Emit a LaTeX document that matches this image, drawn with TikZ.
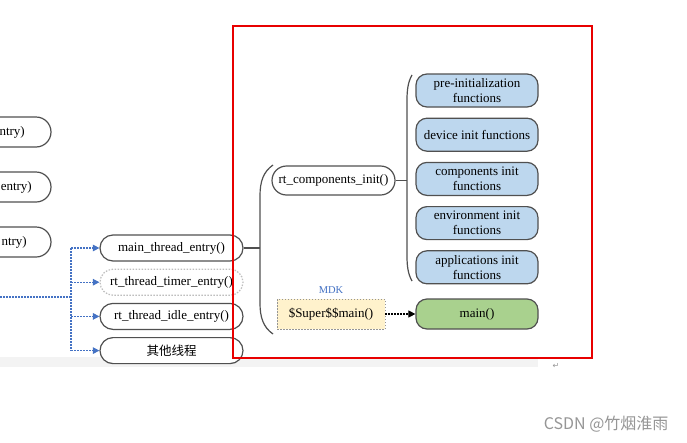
\documentclass[tikz,border=0pt]{standalone}
\usepackage{fontspec}
\setmainfont{Liberation Serif}
\newfontfamily\cjk{Noto Sans CJK SC}
\newfontfamily\symb{DejaVu Sans}
\usepackage{tikz}
\usetikzlibrary{arrows.meta,positioning,calc}
\definecolor{linegray}{RGB}{80,80,80}
\definecolor{dotgray}{RGB}{190,190,190}
\definecolor{flowblue}{RGB}{68,114,196}
\definecolor{initblue}{RGB}{189,215,238}
\definecolor{maingreen}{RGB}{169,209,142}
\definecolor{mdkyellow}{RGB}{255,242,204}
\definecolor{framered}{RGB}{232,0,0}
\definecolor{markgray}{RGB}{150,150,150}
\definecolor{stripgray}{RGB}{243,243,243}

\begin{document}
\begin{tikzpicture}[
    x=1pt, y=-1pt,
    % --- STYLES ---
    every node/.style={font=\fontsize{13}{15}\selectfont},
    thread/.style={
        rectangle, rounded corners=13pt,
        draw=linegray, line width=1.2pt, fill=white,
        minimum width=143pt, minimum height=26pt,
        inner sep=0pt
    },
    cutbox/.style={
        rectangle, rounded corners=15pt,
        draw=linegray, line width=1.2pt, fill=white,
        minimum width=142pt, minimum height=30pt
    },
    initbox/.style={
        rectangle, rounded corners=11pt,
        draw=linegray, line width=1.2pt, fill=initblue,
        minimum width=122pt, minimum height=33pt,
        align=center, inner sep=0pt
    },
    superbox/.style={
        rectangle, draw=markgray, fill=mdkyellow,
        dash pattern=on 1.5pt off 1.5pt, line width=0.9pt,
        minimum width=108pt, minimum height=30pt
    },
    bracket/.style={draw=linegray, line width=1.2pt},
    flowline/.style={draw=flowblue, line width=1.2pt, dash pattern=on 1.5pt off 1.5pt},
    flow/.style={flowline, -{Triangle[length=6.5pt,width=6.5pt]}},
    call/.style={draw=black, line width=1.1pt, dash pattern=on 1.5pt off 1.5pt,
        -{Triangle[length=7pt,width=7pt]}}
]

\clip (0,0) rectangle (687,442);
\fill[white] (0,0) rectangle (687,442);
\fill[stripgray] (0,357) rectangle (538,367);

% ===== 1. LEFT (CUT OFF) NODES =====
\node[cutbox] (cut1) at (-20,132) {};
\node[anchor=east, inner sep=0pt] (cut1txt) at (25,132) {ntry)};
\node[cutbox] (cut2) at (-20,187) {};
\node[anchor=east, inner sep=0pt] (cut2txt) at (32,187) {entry)};
\node[cutbox] (cut3) at (-20,242) {};
\node[anchor=east, inner sep=0pt] (cut3txt) at (27,242) {ntry)};

% ===== 2. THREAD NODES =====
\node[thread] (mte) at (171.5,248) {main\_thread\_entry()};
\node[thread, below=7pt of mte, draw=dotgray, dash pattern=on 1.5pt off 1.5pt] (timer) {rt\_thread\_timer\_entry()};
\node[thread, below=7pt of timer] (idle) {rt\_thread\_idle\_entry()};
\node[thread, below=7pt of idle] (other) {\cjk\fontsize{12.5}{14}\selectfont 其他线程};

% blue dotted fan-out
\coordinate (flowin) at (0,297);
\coordinate (split) at (71,297);
\draw[flowline] (flowin) -- (split);
\draw[flowline] (split |- mte) -- (split |- other);
\draw[flow] (split |- mte) -- (mte.west);
\draw[flow] (split |- timer) -- (timer.west);
\draw[flow] (split |- idle) -- (idle.west);
\draw[flow] (split |- other) -- (other.west);

% ===== 3. MAIN THREAD BRANCH =====
\node[thread, minimum width=123pt, minimum height=29pt, rounded corners=14.5pt] (rci) at (333.5,180.5) {rt\_components\_init()};
\node[superbox] (super) at (331,314) {\$Super\$\$main()};
\node[text=flowblue, font=\fontsize{10.5}{12}\selectfont, inner sep=0pt] (mdk) at (331,290) {MDK};

\coordinate (b1top) at (273,165);
\coordinate (b1bot) at (273,334);
\draw[bracket] (b1top) .. controls (263,172) and (260,182) .. (260,196)
    -- (260,303) .. controls (260,317) and (263,327) .. (b1bot);
\draw[bracket] (mte.east) -- ($(mte.east -| b1top)+(-13,0)$);

% ===== 4. INIT FUNCTIONS =====
\node[initbox] (pre) at (477,90.5) {pre-initialization\\functions};
\node[initbox, below=10pt of pre] (dev) {device init functions};
\node[initbox, below=10pt of dev] (comp) {components init\\functions};
\node[initbox, below=10pt of comp] (env) {environment init\\functions};
\node[initbox, below=10pt of env] (app) {applications init\\functions};

\coordinate (b2top) at (412,75);
\coordinate (b2bot) at (412,281);
\draw[bracket] (b2top) .. controls (408,82) and (407,90) .. (407,100)
    -- (407,256) .. controls (407,266) and (408,274) .. (b2bot);
\draw[bracket] (rci.east) -- ($(rci.east -| b2top)+(-5,0)$);

% ===== 5. MAIN =====
\node[initbox, fill=maingreen, minimum height=30pt] (mainfn) at (477,314) {main()};
\draw[call] (super) -- (mainfn);

% ===== 6. FRAME & MARKS =====
\draw[framered, line width=2.6pt] (233,26) rectangle (592,358);
\node[text=markgray, font=\symb\fontsize{8}{9}\selectfont] (pmark) at (556,366) {↵};
\node[anchor=east, text=markgray, font=\cjk\fontsize{16}{18}\selectfont] (wm) at (672,424) {CSDN @竹烟淮雨};

\end{tikzpicture}
\end{document}
